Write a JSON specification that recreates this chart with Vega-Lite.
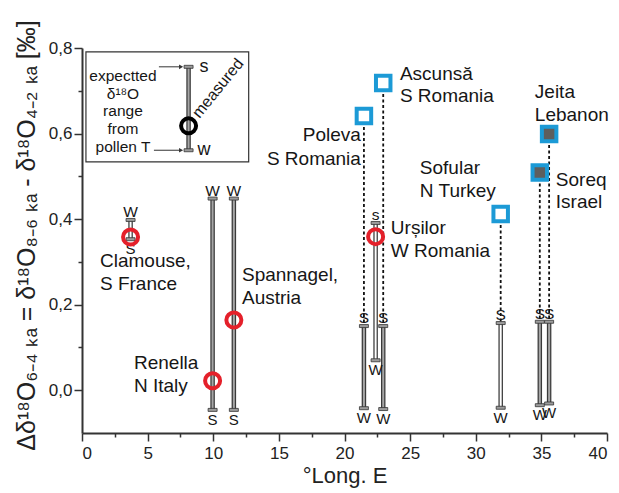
{
  "$schema": "https://vega.github.io/schema/vega-lite/v6.json",
  "width": 525,
  "height": 385,
  "autosize": {"type": "none"},
  "padding": {"left": 82, "top": 48, "right": 12, "bottom": 60},
  "background": "white",
  "config": {
    "view": {"stroke": null},
    "font": "Liberation Sans",
    "text": {"font": "Liberation Sans", "color": "#161616"},
    "axis": {
      "domainColor": "#333333", "domainWidth": 2, "tickColor": "#333333", "tickWidth": 1.5, "tickSize": 8,
      "labelFont": "Liberation Sans", "labelFontSize": 17, "labelColor": "#222222",
      "titleFont": "Liberation Sans", "titleFontWeight": "normal", "titleColor": "#222222", "grid": false
    }
  },
  "datasets": {
    "sites": [
      {"site": "Clamouse", "lon": 3.7, "v": 0.358, "upper": 0.398, "lower": 0.353, "upperLabel": "W", "lowerLabel": "S", "marker": "circle", "bar": "blank", "pattern": "open"},
      {"site": "Renella", "lon": 9.95, "v": 0.022, "upper": 0.448, "lower": -0.046, "upperLabel": "W", "lowerLabel": "S", "marker": "circle", "bar": "shaded", "pattern": "open"},
      {"site": "Spannagel", "lon": 11.57, "v": 0.164, "upper": 0.448, "lower": -0.046, "upperLabel": "W", "lowerLabel": "S", "marker": "circle", "bar": "shaded", "pattern": "open"},
      {"site": "Poleva", "lon": 21.48, "v": 0.641, "upper": 0.15, "lower": -0.042, "upperLabel": "S", "lowerLabel": "W", "marker": "square", "bar": "shaded", "pattern": "open"},
      {"site": "Urșilor", "lon": 22.37, "v": 0.359, "upper": 0.391, "lower": 0.07, "upperLabel": "s", "lowerLabel": "W", "marker": "circle", "bar": "blank", "pattern": "open"},
      {"site": "Ascunsă", "lon": 22.95, "v": 0.718, "upper": 0.15, "lower": -0.044, "upperLabel": "S", "lowerLabel": "W", "marker": "square", "bar": "shaded", "pattern": "open"},
      {"site": "Sofular", "lon": 31.9, "v": 0.412, "upper": 0.157, "lower": -0.041, "upperLabel": "S", "lowerLabel": "W", "marker": "square", "bar": "blank", "pattern": "open"},
      {"site": "Soreq", "lon": 34.88, "v": 0.509, "upper": 0.16, "lower": -0.035, "upperLabel": "S", "lowerLabel": "W", "marker": "square", "bar": "shaded", "pattern": "hatched"},
      {"site": "Jeita", "lon": 35.59, "v": 0.599, "upper": 0.16, "lower": -0.031, "upperLabel": "S", "lowerLabel": "W", "marker": "square", "bar": "shaded", "pattern": "hatched"},
      {"site": "key", "lon": 8.12, "v": 0.618, "upper": 0.756, "lower": 0.561, "upperLabel": "s", "lowerLabel": "w", "marker": "key", "bar": "shaded", "pattern": "open"}
    ],
    "labels": [
      {"site": "Clamouse", "text": ["Clamouse,", "S France"], "lx": 1.37, "ly": 0.288},
      {"site": "Renella", "text": ["Renella", "N Italy"], "lx": 3.96, "ly": 0.049},
      {"site": "Spannagel", "text": ["Spannagel,", "Austria"], "lx": 12.19, "ly": 0.255},
      {"site": "Poleva", "text": ["Poleva", "S Romania"], "lx": 21.25, "ly": 0.583},
      {"site": "Ascunsă", "text": ["Ascunsă", "S Romania"], "lx": 24.22, "ly": 0.726},
      {"site": "Urșilor", "text": ["Urșilor", "W Romania"], "lx": 23.53, "ly": 0.365},
      {"site": "Sofular", "text": ["Sofular", "N Turkey"], "lx": 25.74, "ly": 0.505},
      {"site": "Jeita", "text": ["Jeita", "Lebanon"], "lx": 34.5, "ly": 0.682},
      {"site": "Soreq", "text": ["Soreq", "Israel"], "lx": 36.1, "ly": 0.478}
    ],
    "keybox": [{"x1": 0.3, "x2": 12.7, "y1": 0.534, "y2": 0.791}],
    "keytext": [{"text": ["expectted", "δ¹⁸O", "range", "from", "pollen T"], "lx": 3.12, "ly": 0.723}],
    "arrows": [{"x1": 5.86, "x2": 7.55, "v": 0.756}, {"x1": 5.48, "x2": 7.55, "v": 0.561}],
    "measured": [{"text": "measured", "lx": 10.36, "ly": 0.706}]
  },
  "resolve": {"axis": {"x": "independent", "y": "independent"}},
  "layer": [
    {
      "data": {"name": "sites"},
      "mark": {"type": "point", "opacity": 0},
      "encoding": {
        "x": {"field": "lon", "type": "quantitative", "scale": {"domain": [0, 40], "nice": false, "zero": false},
              "axis": {"orient": "bottom", "values": [0, 5, 10, 15, 20, 25, 30, 35, 40], "title": "°Long. E", "titleFontSize": 22, "titlePadding": 4, "labelPadding": 4}},
        "y": {"field": "v", "type": "quantitative", "scale": {"domain": [-0.1, 0.8], "nice": false, "zero": false},
              "axis": {"orient": "left", "values": [0, 0.2, 0.4, 0.6, 0.8], "labelExpr": "replace(format(datum.value, '.1f'), '.', ',')",
                       "title": "Δδ¹⁸O₆₋₄ ₖₐ = δ¹⁸O₈₋₆ ₖₐ - δ¹⁸O₄₋₂ ₖₐ [‰]", "titleFontSize": 25, "titlePadding": 9, "titleY": 187, "labelPadding": 2}}
      }
    },
    {
      "data": {"name": "sites"},
      "mark": {"type": "point", "opacity": 0},
      "encoding": {
        "x": {"field": "lon", "type": "quantitative", "scale": {"domain": [0, 40], "nice": false, "zero": false},
              "axis": {"orient": "bottom", "values": [2.5, 7.5, 12.5, 17.5, 22.5, 27.5, 32.5, 37.5], "labels": false, "domain": false, "tickSize": 4, "title": null}},
        "y": {"field": "v", "type": "quantitative", "scale": {"domain": [-0.1, 0.8], "nice": false, "zero": false},
              "axis": {"orient": "left", "values": [0.1, 0.3, 0.5, 0.7], "labels": false, "domain": false, "tickSize": 4, "title": null}}
      }
    },
    {
      "data": {"name": "keybox"},
      "mark": {"type": "rect", "fill": "white", "stroke": "#333333", "strokeWidth": 1.2},
      "encoding": {
        "x": {"field": "x1", "type": "quantitative", "scale": {"domain": [0, 40], "nice": false, "zero": false}, "axis": null},
        "x2": {"field": "x2"},
        "y": {"field": "y1", "type": "quantitative", "scale": {"domain": [-0.1, 0.8], "nice": false, "zero": false}, "axis": null},
        "y2": {"field": "y2"}
      }
    },
    {
      "data": {"name": "sites"},
      "transform": [{"filter": "datum.marker === 'square'"}],
      "mark": {"type": "rule", "strokeDash": [3, 2.5], "strokeWidth": 1.8, "color": "#111111"},
      "encoding": {
        "x": {"field": "lon", "type": "quantitative", "scale": {"domain": [0, 40], "nice": false, "zero": false}, "axis": null},
        "y": {"field": "v", "type": "quantitative", "scale": {"domain": [-0.1, 0.8], "nice": false, "zero": false}, "axis": null},
        "y2": {"field": "upper"}
      }
    },
    {
      "data": {"name": "sites"},
      "mark": {"type": "rule", "strokeWidth": 4.5, "color": "#3a3a3a"},
      "encoding": {
        "x": {"field": "lon", "type": "quantitative", "scale": {"domain": [0, 40], "nice": false, "zero": false}, "axis": null},
        "y": {"field": "upper", "type": "quantitative", "scale": {"domain": [-0.1, 0.8], "nice": false, "zero": false}, "axis": null},
        "y2": {"field": "lower"}
      }
    },
    {
      "data": {"name": "sites"},
      "mark": {"type": "rule", "strokeWidth": 2},
      "encoding": {
        "x": {"field": "lon", "type": "quantitative", "scale": {"domain": [0, 40], "nice": false, "zero": false}, "axis": null},
        "y": {"field": "upper", "type": "quantitative", "scale": {"domain": [-0.1, 0.8], "nice": false, "zero": false}, "axis": null},
        "y2": {"field": "lower"},
        "color": {"field": "bar", "type": "nominal", "scale": {"domain": ["shaded", "blank"], "range": ["#a6a6a6", "#ffffff"]}, "legend": null}
      }
    },
    {
      "data": {"name": "sites"},
      "mark": {"type": "tick", "orient": "horizontal", "size": 9, "thickness": 3, "color": "#9c9c9c", "stroke": "#333333", "strokeWidth": 0.8, "opacity": 1},
      "encoding": {
        "x": {"field": "lon", "type": "quantitative", "scale": {"domain": [0, 40], "nice": false, "zero": false}, "axis": null},
        "y": {"field": "upper", "type": "quantitative", "scale": {"domain": [-0.1, 0.8], "nice": false, "zero": false}, "axis": null}
      }
    },
    {
      "data": {"name": "sites"},
      "mark": {"type": "tick", "orient": "horizontal", "size": 9, "thickness": 3, "color": "#9c9c9c", "stroke": "#333333", "strokeWidth": 0.8, "opacity": 1},
      "encoding": {
        "x": {"field": "lon", "type": "quantitative", "scale": {"domain": [0, 40], "nice": false, "zero": false}, "axis": null},
        "y": {"field": "lower", "type": "quantitative", "scale": {"domain": [-0.1, 0.8], "nice": false, "zero": false}, "axis": null}
      }
    },
    {
      "data": {"name": "sites"},
      "transform": [{"filter": "datum.marker !== 'key'"}],
      "mark": {"type": "text", "fontSize": 15.5, "baseline": "alphabetic", "align": "center", "dy": -3},
      "encoding": {
        "x": {"field": "lon", "type": "quantitative", "scale": {"domain": [0, 40], "nice": false, "zero": false}, "axis": null},
        "y": {"field": "upper", "type": "quantitative", "scale": {"domain": [-0.1, 0.8], "nice": false, "zero": false}, "axis": null},
        "text": {"field": "upperLabel"}
      }
    },
    {
      "data": {"name": "sites"},
      "transform": [{"filter": "datum.marker !== 'key'"}],
      "mark": {"type": "text", "fontSize": 15, "baseline": "top", "align": "center", "dy": 3},
      "encoding": {
        "x": {"field": "lon", "type": "quantitative", "scale": {"domain": [0, 40], "nice": false, "zero": false}, "axis": null},
        "y": {"field": "lower", "type": "quantitative", "scale": {"domain": [-0.1, 0.8], "nice": false, "zero": false}, "axis": null},
        "text": {"field": "lowerLabel"}
      }
    },
    {
      "data": {"name": "sites"},
      "transform": [{"filter": "datum.marker === 'circle'"}],
      "mark": {"type": "point", "shape": "circle", "size": 225, "filled": false, "stroke": "#e4202a", "strokeWidth": 4, "opacity": 1},
      "encoding": {
        "x": {"field": "lon", "type": "quantitative", "scale": {"domain": [0, 40], "nice": false, "zero": false}, "axis": null},
        "y": {"field": "v", "type": "quantitative", "scale": {"domain": [-0.1, 0.8], "nice": false, "zero": false}, "axis": null}
      }
    },
    {
      "data": {"name": "sites"},
      "transform": [{"filter": "datum.marker === 'square'"}],
      "mark": {"type": "point", "shape": "square", "size": 210, "filled": true, "stroke": "#1c9ad6", "strokeWidth": 4, "opacity": 1},
      "encoding": {
        "x": {"field": "lon", "type": "quantitative", "scale": {"domain": [0, 40], "nice": false, "zero": false}, "axis": null},
        "y": {"field": "v", "type": "quantitative", "scale": {"domain": [-0.1, 0.8], "nice": false, "zero": false}, "axis": null},
        "fill": {"field": "pattern", "type": "nominal", "scale": {"domain": ["open", "hatched"], "range": ["#ffffff", "#5e5e5e"]}, "legend": null}
      }
    },
    {
      "data": {"name": "sites"},
      "transform": [{"filter": "datum.marker === 'key'"}],
      "mark": {"type": "point", "shape": "circle", "size": 225, "filled": false, "stroke": "#000000", "strokeWidth": 4, "opacity": 1},
      "encoding": {
        "x": {"field": "lon", "type": "quantitative", "scale": {"domain": [0, 40], "nice": false, "zero": false}, "axis": null},
        "y": {"field": "v", "type": "quantitative", "scale": {"domain": [-0.1, 0.8], "nice": false, "zero": false}, "axis": null}
      }
    },
    {
      "data": {"name": "sites"},
      "transform": [{"filter": "datum.marker === 'key'"}],
      "mark": {"type": "text", "fontSize": 18, "baseline": "middle", "align": "left", "dx": 11},
      "encoding": {
        "x": {"field": "lon", "type": "quantitative", "scale": {"domain": [0, 40], "nice": false, "zero": false}, "axis": null},
        "y": {"field": "upper", "type": "quantitative", "scale": {"domain": [-0.1, 0.8], "nice": false, "zero": false}, "axis": null},
        "text": {"field": "upperLabel"}
      }
    },
    {
      "data": {"name": "sites"},
      "transform": [{"filter": "datum.marker === 'key'"}],
      "mark": {"type": "text", "fontSize": 18, "baseline": "middle", "align": "left", "dx": 9},
      "encoding": {
        "x": {"field": "lon", "type": "quantitative", "scale": {"domain": [0, 40], "nice": false, "zero": false}, "axis": null},
        "y": {"field": "lower", "type": "quantitative", "scale": {"domain": [-0.1, 0.8], "nice": false, "zero": false}, "axis": null},
        "text": {"field": "lowerLabel"}
      }
    },
    {
      "data": {"name": "arrows"},
      "mark": {"type": "rule", "strokeWidth": 1, "color": "#333333"},
      "encoding": {
        "x": {"field": "x1", "type": "quantitative", "scale": {"domain": [0, 40], "nice": false, "zero": false}, "axis": null},
        "x2": {"field": "x2"},
        "y": {"field": "v", "type": "quantitative", "scale": {"domain": [-0.1, 0.8], "nice": false, "zero": false}, "axis": null}
      }
    },
    {
      "data": {"name": "arrows"},
      "mark": {"type": "point", "shape": "triangle-right", "size": 22, "filled": true, "color": "#333333", "opacity": 1},
      "encoding": {
        "x": {"field": "x2", "type": "quantitative", "scale": {"domain": [0, 40], "nice": false, "zero": false}, "axis": null},
        "y": {"field": "v", "type": "quantitative", "scale": {"domain": [-0.1, 0.8], "nice": false, "zero": false}, "axis": null}
      }
    },
    {
      "data": {"name": "keytext"},
      "mark": {"type": "text", "fontSize": 15.5, "lineHeight": 17.7, "baseline": "alphabetic", "align": "center"},
      "encoding": {
        "x": {"field": "lx", "type": "quantitative", "scale": {"domain": [0, 40], "nice": false, "zero": false}, "axis": null},
        "y": {"field": "ly", "type": "quantitative", "scale": {"domain": [-0.1, 0.8], "nice": false, "zero": false}, "axis": null},
        "text": {"field": "text"}
      }
    },
    {
      "data": {"name": "measured"},
      "mark": {"type": "text", "fontSize": 16, "baseline": "middle", "align": "center", "angle": -51},
      "encoding": {
        "x": {"field": "lx", "type": "quantitative", "scale": {"domain": [0, 40], "nice": false, "zero": false}, "axis": null},
        "y": {"field": "ly", "type": "quantitative", "scale": {"domain": [-0.1, 0.8], "nice": false, "zero": false}, "axis": null},
        "text": {"field": "text"}
      }
    },
    {
      "data": {"name": "labels"},
      "transform": [{"filter": "datum.site !== 'Poleva'"}],
      "mark": {"type": "text", "fontSize": 19, "lineHeight": 22.5, "baseline": "alphabetic", "align": "left"},
      "encoding": {
        "x": {"field": "lx", "type": "quantitative", "scale": {"domain": [0, 40], "nice": false, "zero": false}, "axis": null},
        "y": {"field": "ly", "type": "quantitative", "scale": {"domain": [-0.1, 0.8], "nice": false, "zero": false}, "axis": null},
        "text": {"field": "text"}
      }
    },
    {
      "data": {"name": "labels"},
      "transform": [{"filter": "datum.site === 'Poleva'"}],
      "mark": {"type": "text", "fontSize": 19, "lineHeight": 24, "baseline": "alphabetic", "align": "right"},
      "encoding": {
        "x": {"field": "lx", "type": "quantitative", "scale": {"domain": [0, 40], "nice": false, "zero": false}, "axis": null},
        "y": {"field": "ly", "type": "quantitative", "scale": {"domain": [-0.1, 0.8], "nice": false, "zero": false}, "axis": null},
        "text": {"field": "text"}
      }
    }
  ]
}
